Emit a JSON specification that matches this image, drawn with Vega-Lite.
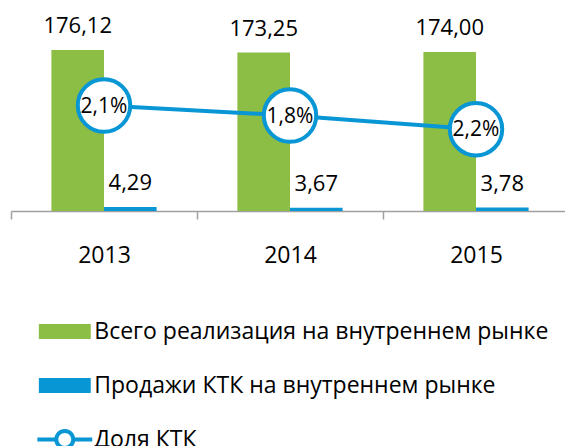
{
  "$schema": "https://vega.github.io/schema/vega-lite/v6.json",
  "width": 558,
  "height": 211,
  "autosize": {"type": "none"},
  "padding": {"left": 11, "top": 0, "right": 0, "bottom": 235},
  "background": "white",
  "config": {
    "view": {"stroke": null},
    "font": "Open Sans",
    "text": {"font": "Open Sans"}
  },
  "datasets": {
    "bars": [
      {"year": "2013", "series": "Всего реализация на внутреннем рынке", "value": 176.12, "label": "176,12"},
      {"year": "2013", "series": "Продажи КТК на внутреннем рынке", "value": 4.29, "label": "4,29"},
      {"year": "2014", "series": "Всего реализация на внутреннем рынке", "value": 173.25, "label": "173,25"},
      {"year": "2014", "series": "Продажи КТК на внутреннем рынке", "value": 3.67, "label": "3,67"},
      {"year": "2015", "series": "Всего реализация на внутреннем рынке", "value": 174.00, "label": "174,00"},
      {"year": "2015", "series": "Продажи КТК на внутреннем рынке", "value": 3.78, "label": "3,78"}
    ],
    "share": [
      {"year": "2013", "share_pos": 2.0, "label": "2,1%"},
      {"year": "2014", "share_pos": 1.81, "label": "1,8%"},
      {"year": "2015", "share_pos": 1.55, "label": "2,2%"}
    ]
  },
  "encoding": {
    "x": {
      "field": "year",
      "type": "nominal",
      "scale": {"paddingInner": 0, "paddingOuter": 0},
      "axis": {
        "title": null,
        "labelAngle": 0,
        "labelFont": "Open Sans",
        "labelFontSize": 23,
        "labelColor": "#000000",
        "labelBaseline": "middle",
        "labelPadding": 36,
        "tickBand": "extent",
        "tickSize": 8,
        "tickColor": "#A0A0A0",
        "tickWidth": 1.5,
        "domainColor": "#A0A0A0",
        "domainWidth": 1.5,
        "grid": false
      }
    }
  },
  "layer": [
    {
      "data": {"name": "bars"},
      "mark": {"type": "bar"},
      "encoding": {
        "xOffset": {
          "field": "series",
          "type": "nominal",
          "sort": ["Всего реализация на внутреннем рынке", "Продажи КТК на внутреннем рынке"],
          "scale": {"paddingInner": 0, "paddingOuter": 0.768}
        },
        "y": {"field": "value", "type": "quantitative", "scale": {"domain": [0, 230.8]}, "axis": null},
        "color": {
          "field": "series",
          "type": "nominal",
          "scale": {
            "domain": ["Всего реализация на внутреннем рынке", "Продажи КТК на внутреннем рынке", "Доля КТК"],
            "range": ["#8CBD45", "#0896D5", "#0896D5"]
          },
          "legend": {
            "title": null,
            "orient": "none",
            "legendX": 38.8,
            "legendY": 316.5,
            "direction": "vertical",
            "padding": 0,
            "symbolSize": 900,
            "symbolStrokeWidth": 0,
            "symbolType": "M-1.73,-0.5H1.73V0.5H-1.73Z",
            "labelFont": "Open Sans",
            "labelFontSize": 23,
            "labelColor": "#000000",
            "labelLimit": 0,
            "labelOffset": 14.5,
            "rowPadding": 27,
            "encode": {
              "symbols": {
                "update": {
                  "shape": {"signal": "datum.value === 'Доля КТК' ? 'M-1.83,-0.133H-0.5V0.133H-1.83Z M0.5,-0.133H1.83V0.133H0.5Z M0.7,0A0.7,0.7 0 1 1 -0.7,0A0.7,0.7 0 1 1 0.7,0Z M0.43,0A0.43,0.43 0 1 0 -0.43,0A0.43,0.43 0 1 0 0.43,0Z' : 'M-1.73,-0.5H1.73V0.5H-1.73Z'"},
                  "opacity": {"value": 1},
                  "fillOpacity": {"value": 1}
                }
              }
            }
          }
        }
      }
    },
    {
      "data": {"name": "bars"},
      "mark": {"type": "text", "baseline": "alphabetic", "dy": -17, "fontSize": 22, "font": "Open Sans", "color": "#000000"},
      "encoding": {
        "xOffset": {
          "field": "series",
          "type": "nominal",
          "sort": ["Всего реализация на внутреннем рынке", "Продажи КТК на внутреннем рынке"],
          "scale": {"paddingInner": 0, "paddingOuter": 0.768}
        },
        "y": {"field": "value", "type": "quantitative", "scale": {"domain": [0, 230.8]}, "axis": null},
        "text": {"field": "label"}
      }
    },
    {
      "data": {"name": "share"},
      "mark": {"type": "line", "color": "#0896D5", "strokeWidth": 4},
      "encoding": {
        "y": {"field": "share_pos", "type": "quantitative", "scale": {"domain": [0, 4]}, "axis": null}
      }
    },
    {
      "data": {"name": "share"},
      "mark": {"type": "point", "shape": "circle", "size": 2750, "filled": true, "fill": "#ffffff", "stroke": "#0896D5", "strokeWidth": 4, "opacity": 1},
      "encoding": {
        "y": {"field": "share_pos", "type": "quantitative", "scale": {"domain": [0, 4]}, "axis": null}
      }
    },
    {
      "data": {"name": "share"},
      "mark": {"type": "text", "baseline": "middle", "dy": 1, "fontSize": 21, "font": "Open Sans", "color": "#000000"},
      "encoding": {
        "y": {"field": "share_pos", "type": "quantitative", "scale": {"domain": [0, 4]}, "axis": null},
        "text": {"field": "label"}
      }
    }
  ],
  "resolve": {"scale": {"y": "independent"}}
}
